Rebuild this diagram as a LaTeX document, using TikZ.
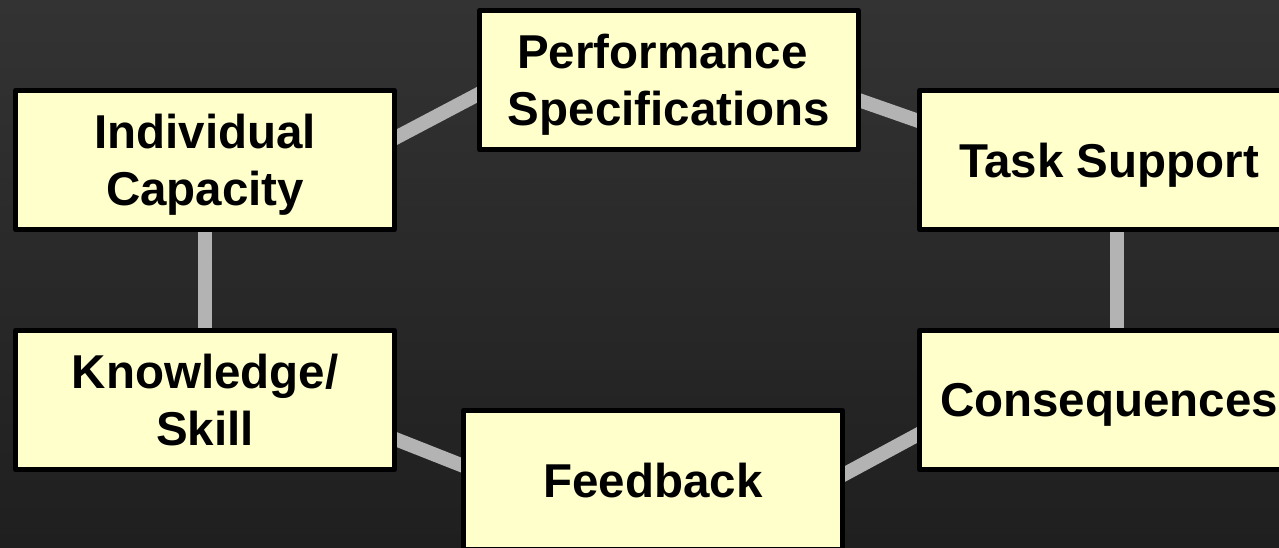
\documentclass[tikz,border=0pt]{standalone}
\usepackage{fontspec}
\setmainfont{Liberation Sans}
\usetikzlibrary{backgrounds}
\definecolor{bgtop}{RGB}{51,51,51}
\definecolor{bgbot}{RGB}{31,31,31}
\definecolor{boxfill}{RGB}{255,255,204}
\definecolor{linkgray}{RGB}{179,179,179}
\begin{document}
\begin{tikzpicture}[x=1pt,y=-1pt,
  box/.style={draw=black, line width=5pt, line join=round, fill=boxfill,
    minimum width=379pt, minimum height=139pt, inner sep=0pt, align=center,
    text depth=0pt,
    font=\fontsize{47.5}{56.5}\selectfont\bfseries},
  link/.style={draw=linkgray, line width=14pt}]
\useasboundingbox (0,0) rectangle (1279,547);
\node[box] (ps) at (669,80) {Performance\hphantom{\ }\\Specifications};
\node[box] (ic) at (205,160) {Individual\\Capacity};
\node[box] (ts) at (1109,160) {Task Support};
\node[box] (ks) at (205,400) {Knowledge/\\Skill};
\node[box] (co) at (1109,400) {Consequences};
\node[box] (fb) at (653,480) {Feedback};
\begin{scope}[on background layer]
  \shade[top color=bgtop, bottom color=bgbot] (0,0) rectangle (1279,547);
  \draw[link] ([shift={(175,-14)}]ic.center) -- ([shift={(-179,8)}]ps.center);
  \draw[link] ([shift={(181,17)}]ps.center) -- ([shift={(-179,-35)}]ts.center);
  \draw[link] (ic.center) -- (ks.center);
  \draw[link] ([xshift=8pt]ts.center) -- ([xshift=8pt]co.center);
  \draw[link] ([shift={(175,33)}]ks.center) -- ([shift={(-178,-9.5)}]fb.center);
  \draw[link] ([shift={(177,2)}]fb.center) -- ([shift={(-179,28)}]co.center);
\end{scope}
\end{tikzpicture}
\end{document}
